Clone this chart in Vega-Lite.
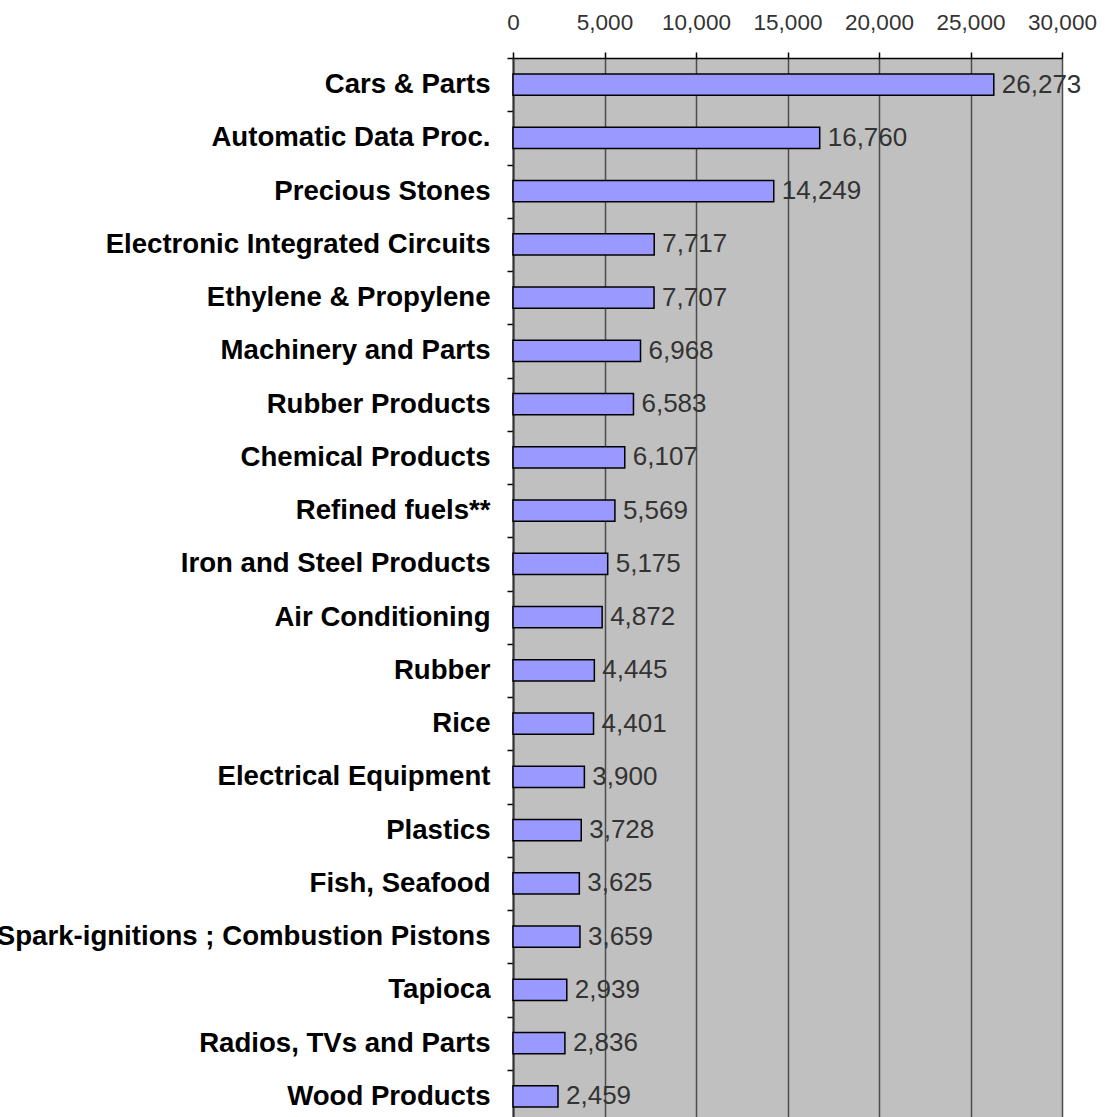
{
  "$schema": "https://vega.github.io/schema/vega-lite/v6.json",
  "autosize": "none",
  "padding": {"left": 513, "top": 58, "right": 46, "bottom": 0},
  "width": 549,
  "height": 1065,
  "background": "white",
  "view": {"fill": "#c0c0c0", "stroke": null},
  "data": {
    "values": [
      {"item": "Cars & Parts", "value": 26273},
      {"item": "Automatic Data Proc.", "value": 16760},
      {"item": "Precious Stones", "value": 14249},
      {"item": "Electronic Integrated Circuits", "value": 7717},
      {"item": "Ethylene & Propylene", "value": 7707},
      {"item": "Machinery and Parts", "value": 6968},
      {"item": "Rubber Products", "value": 6583},
      {"item": "Chemical Products", "value": 6107},
      {"item": "Refined fuels**", "value": 5569},
      {"item": "Iron and Steel Products", "value": 5175},
      {"item": "Air Conditioning", "value": 4872},
      {"item": "Rubber", "value": 4445},
      {"item": "Rice", "value": 4401},
      {"item": "Electrical Equipment", "value": 3900},
      {"item": "Plastics", "value": 3728},
      {"item": "Fish, Seafood", "value": 3625},
      {"item": "Spark-ignitions ; Combustion Pistons", "value": 3659},
      {"item": "Tapioca", "value": 2939},
      {"item": "Radios, TVs and Parts", "value": 2836},
      {"item": "Wood Products", "value": 2459}
    ]
  },
  "encoding": {
    "y": {
      "field": "item",
      "type": "nominal",
      "sort": null,
      "scale": {"paddingInner": 0, "paddingOuter": 0},
      "axis": {
        "title": null,
        "orient": "left",
        "tickBand": "extent",
        "tickSize": 6,
        "tickColor": "#000000",
        "tickWidth": 1.5,
        "domainColor": "#333333",
        "domainWidth": 2,
        "labelFont": "Liberation Sans",
        "labelFontWeight": "bold",
        "labelFontSize": 27.6,
        "labelColor": "#000000",
        "labelPadding": 17,
        "labelLimit": 2000,
        "grid": false
      }
    },
    "x": {
      "field": "value",
      "type": "quantitative",
      "scale": {"domain": [0, 30000], "nice": false},
      "axis": {
        "title": null,
        "orient": "top",
        "values": [0, 5000, 10000, 15000, 20000, 25000, 30000],
        "format": ",d",
        "tickSize": 6,
        "tickColor": "#000000",
        "tickWidth": 1.5,
        "domainColor": "#000000",
        "domainWidth": 1.5,
        "labelFont": "Liberation Sans",
        "labelFontSize": 22.5,
        "labelColor": "#333333",
        "labelPadding": 18,
        "labelFlush": false,
        "grid": true,
        "gridColor": "#4d4d4d",
        "gridWidth": 1.5,
        "gridOpacity": 1
      }
    }
  },
  "layer": [
    {
      "mark": {"type": "bar", "height": {"band": 0.4}, "fill": "#9999ff", "stroke": "#000000", "strokeWidth": 1.5}
    },
    {
      "mark": {"type": "text", "align": "left", "baseline": "middle", "dx": 8, "font": "Liberation Sans", "fontSize": 26, "color": "#333333"},
      "encoding": {"text": {"field": "value", "type": "quantitative", "format": ",d"}}
    }
  ]
}
